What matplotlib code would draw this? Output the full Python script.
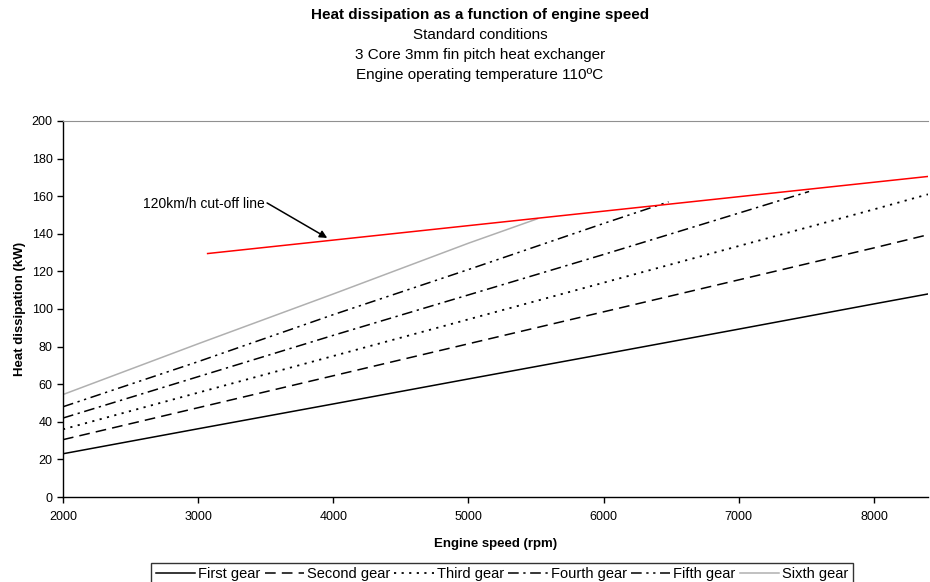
import matplotlib.pyplot as plt

plt.rcParams['font.family'] = ['Liberation Sans', 'DejaVu Sans']

# engine speed (rpm) and heat dissipation (kW) per gear
rpm_first = [2000, 3000, 4000, 5000, 6000, 7000, 8000, 8400]
kw_first = [23, 36.3, 49.5, 62.8, 76, 89.3, 102.7, 108]

rpm_second = [2000, 3000, 4000, 5000, 6000, 7000, 8000, 8400]
kw_second = [30.5, 47.5, 64.5, 81.5, 98.5, 115.5, 132.5, 139.5]

rpm_third = [2000, 3000, 4000, 5000, 6000, 7000, 8000, 8400]
kw_third = [36, 55.5, 75, 94.5, 114, 133.5, 153, 161]

rpm_fourth = [2000, 3000, 4000, 5000, 6000, 7000, 7520]
kw_fourth = [42, 64, 86, 107.5, 129, 151, 162.5]

rpm_fifth = [2000, 3000, 4000, 5000, 6000, 6480]
kw_fifth = [48, 72, 97, 121, 145.5, 157]

rpm_sixth = [2000, 3000, 4000, 5000, 5510]
kw_sixth = [54.5, 81.5, 108, 135, 148]

rpm_cutoff = [3070, 8400]
kw_cutoff = [129.5, 170.5]

fig = plt.figure(figsize=(9.3, 5.82), dpi=100)
ax = fig.add_axes([63 / 930, 1 - 497 / 582, 865 / 930, 376 / 582])

ax.plot(rpm_first, kw_first, color='black', lw=1.1, ls='-', label='First gear')
ax.plot(rpm_second, kw_second, color='black', lw=1.1, ls=(0, (7, 4)), label='Second gear')
ax.plot(rpm_third, kw_third, color='black', lw=1.3, ls=(0, (1.2, 3)), label='Third gear')
ax.plot(rpm_fourth, kw_fourth, color='black', lw=1.1, ls=(0, (7, 3, 1.5, 3)), label='Fourth gear')
ax.plot(rpm_fifth, kw_fifth, color='black', lw=1.1, ls=(0, (7, 3, 1.5, 3, 1.5, 3)), label='Fifth gear')
ax.plot(rpm_sixth, kw_sixth, color='#b0b0b0', lw=1.1, ls='-', label='Sixth gear')
ax.plot(rpm_cutoff, kw_cutoff, color='red', lw=1.1)

ax.text(2590, 156, '120km/h cut-off line', fontsize=10, va='center', ha='left')
ax.annotate('', xy=(3955, 137.8), xytext=(3510, 156.4),
            arrowprops=dict(arrowstyle='-|>', color='black', lw=1.1,
                            shrinkA=0, shrinkB=0, mutation_scale=11))

ax.set_xlim(2000, 8400)
ax.set_ylim(0, 200)
ax.set_xticks([2000, 3000, 4000, 5000, 6000, 7000, 8000])
ax.set_yticks(range(0, 201, 20))
ax.tick_params(labelsize=9, length=4, width=1, direction='out')
ax.tick_params(axis='x', pad=6)

ax.spines['right'].set_visible(False)
ax.spines['top'].set_color('#909090')
ax.spines['left'].set_linewidth(1)
ax.spines['bottom'].set_linewidth(1)

ax.set_xlabel('Engine speed (rpm)', fontsize=9.5, fontweight='bold')
ax.set_ylabel('Heat dissipation (kW)', fontsize=9.5, fontweight='bold')
ax.xaxis.set_label_coords(0.5, (497 - 538) / 376)
ax.yaxis.set_label_coords((26 - 63) / 865, 0.5)

fig.text(480 / 930, 1 - 15 / 582, 'Heat dissipation as a function of engine speed',
         ha='center', va='center', fontsize=11, fontweight='bold')
fig.text(480 / 930, 1 - 35 / 582, 'Standard conditions', ha='center', va='center', fontsize=11)
fig.text(480 / 930, 1 - 55 / 582, '3 Core 3mm fin pitch heat exchanger',
         ha='center', va='center', fontsize=11)
fig.text(480 / 930, 1 - 75 / 582, 'Engine operating temperature 110ºC',
         ha='center', va='center', fontsize=11)

leg = fig.legend(loc='upper center', bbox_to_anchor=(502 / 930, 1 - 563 / 582),
                 ncol=6, fontsize=10.5, frameon=True, fancybox=False,
                 handlelength=2.7, handletextpad=0.2, columnspacing=0.3,
                 borderpad=0.3, borderaxespad=0)
leg.get_frame().set_edgecolor('black')
leg.get_frame().set_linewidth(1)

fig.savefig('out.png', dpi=100)
